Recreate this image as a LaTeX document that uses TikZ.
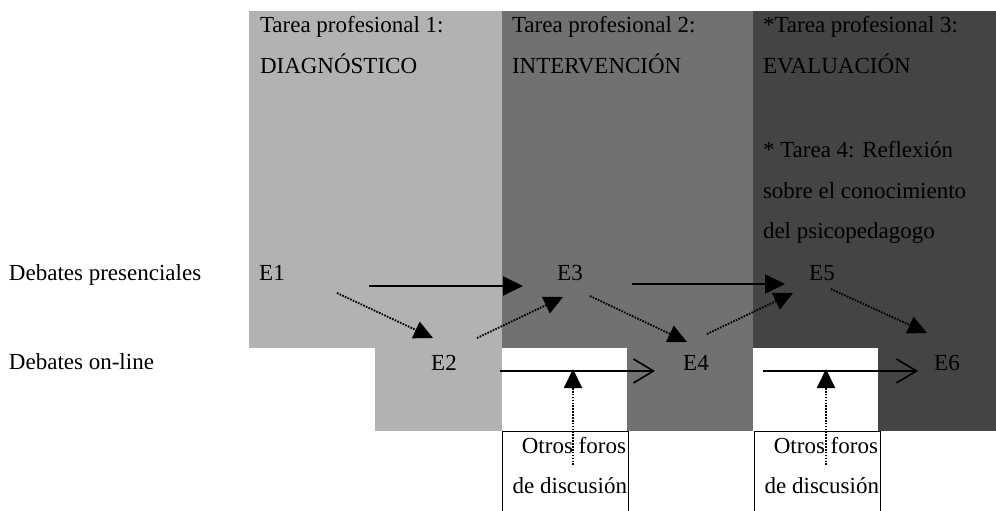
\documentclass[tikz,border=0pt]{standalone}
\usepackage{fontspec}
\setmainfont{Liberation Serif}
\usetikzlibrary{arrows.meta,calc}
\definecolor{gA}{RGB}{178,178,178}
\definecolor{gB}{RGB}{113,113,113}
\definecolor{gC}{RGB}{68,68,68}
\tikzset{
  txt/.style={inner sep=0pt, outer sep=0pt, anchor=base west, font=\fontsize{23}{28}\selectfont},
  enode/.style={inner sep=0pt, outer sep=0pt, anchor=base, font=\fontsize{23}{28}\selectfont},
  boxtxt/.style={inner sep=0pt, outer sep=0pt, anchor=base east, font=\fontsize{23}{28}\selectfont},
  solidarrow/.style={line width=2pt, -{Triangle[length=20pt,width=19pt]}},
  openarrow/.style={line width=2pt, -{Straight Barb[length=20pt,width=24pt,line width=1.6pt]}},
  dotarrow/.style={line width=1.9pt, dash pattern=on 1.6pt off 1.3pt, -{Triangle[length=19pt,width=18pt]}},
  boxline/.style={line width=1pt, draw=black}
}
\begin{document}
\begin{tikzpicture}[x=1pt,y=-1pt]
\useasboundingbox (0,0) rectangle (996,511);
% background columns
\fill[gA] (249,11) rectangle (502,348);
\fill[gA] (375,348) rectangle (502,431);
\fill[gB] (502,11) rectangle (753,348);
\fill[gB] (627,348) rectangle (753,431);
\fill[gC] (753,11) rectangle (996,348);
\fill[gC] (878,348) rectangle (996,431);
% boxes for other forums
\draw[boxline] (502,512) -- (502,431) -- (628,431) -- (628,512);
\draw[boxline] (754,512) -- (754,431) -- (880,431) -- (880,512);
% headers
\node[txt] (h1a) at (260,33) {Tarea profesional 1:};
\node[txt] (h1b) at (260,74) {DIAGNÓSTICO};
\node[txt] (h2a) at (512,33) {Tarea profesional 2:};
\node[txt] (h2b) at (512,74) {INTERVENCIÓN};
\node[txt] (h3a) at (763,33) {*Tarea profesional 3:};
\node[txt] (h3b) at (763,74) {EVALUACIÓN};
\node[txt] (t4a) at (763,157) {* Tarea 4: Reflexión};
\node[txt] (t4b) at (763,198) {sobre el conocimiento};
\node[txt] (t4c) at (763,238) {del psicopedagogo};
% row labels
\node[txt] (rp) at (9,280) {Debates presenciales};
\node[txt] (ro) at (9,369) {Debates on-line};
% E nodes
\node[enode] (E1) at (272,280) {E1};
\node[enode] (E3) at (570,280) {E3};
\node[enode] (E5) at (822,280) {E5};
\node[enode] (E2) at (444,370) {E2};
\node[enode] (E4) at (696,370) {E4};
\node[enode] (E6) at (947,370) {E6};
% forum texts
\node[boxtxt] (F1a) at (626,453) {Otros foros};
\node[boxtxt] (F1b) at (627,493) {de discusión};
\node[boxtxt] (F2a) at (878,453) {Otros foros};
\node[boxtxt] (F2b) at (879,493) {de discusión};
% solid arrows
\draw[solidarrow] ($(E1.base)+(97,6)$) -- ($(E3.base)+(-47,6)$);
\draw[solidarrow] ($(E3.base)+(62,4)$) -- ($(E5.base)+(-37,4)$);
% dotted arrows
\draw[dotarrow] ($(E1.base)+(65,13)$) -- ($(E2.base)+(-11,-32)$);
\draw[dotarrow] ($(E2.base)+(33,-32)$) -- ($(E3.base)+(-7,17)$);
\draw[dotarrow] ($(E3.base)+(20,16)$) -- ($(E4.base)+(-9,-28)$);
\draw[dotarrow] ($(E4.base)+(11,-36)$) -- ($(E5.base)+(-29,13)$);
\draw[dotarrow] ($(E5.base)+(9,9)$) -- ($(E6.base)+(-20,-37)$);
% online open arrows
\draw[openarrow] ($(E2.base)+(56,1)$) -- ($(E4.base)+(-41,1)$);
\draw[openarrow] ($(E4.base)+(67,1)$) -- ($(E6.base)+(-29,1)$);
% dotted vertical arrows from forums
\coordinate (T1) at (573,369);
\coordinate (T2) at (826,369);
\draw[dotarrow] ($(F1a.base east)+(-53,12)$) -- (T1);
\draw[dotarrow] ($(F2a.base east)+(-52,12)$) -- (T2);
\end{tikzpicture}
\end{document}
